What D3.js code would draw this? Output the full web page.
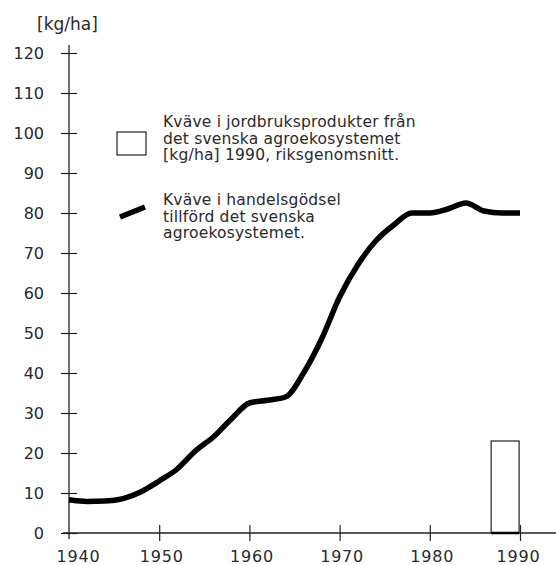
<!DOCTYPE html>
<html>
<head>
<meta charset="utf-8">
<script src="https://cdn.jsdelivr.net/npm/d3@7"></script>
<style>
  body { margin: 0; background: #fff; }
  svg text { font-family: "DejaVu Sans", sans-serif; fill: #2a2a2a; }
</style>
</head>
<body>
<svg id="chart" width="556" height="565"></svg>
<script>
// Commercial fertilizer nitrogen, kg/ha
const years = [1940, 1942, 1944, 1946, 1948, 1950, 1952, 1954, 1956, 1958, 1960, 1962, 1964,
               1966, 1968, 1970, 1972, 1974, 1976, 1978, 1980, 1982, 1984, 1986, 1988, 1990];
const fertilizer = [8.3, 7.9, 8.0, 8.6, 10.3, 13, 16, 20.5, 24, 28.5, 32.5, 33.2, 34,
                    40, 48.5, 59, 67, 73, 77, 80, 80, 81, 82.5, 80.5, 80, 80];

// Nitrogen in farm products, 1990 national average
const barRange = [1986.8, 1989.9];
const barValue = 23;

const yTicks = [0, 10, 20, 30, 40, 50, 60, 70, 80, 90, 100, 110, 120];
const xTicks = [1940, 1950, 1960, 1970, 1980, 1990];

const legendBar = ["Kväve i jordbruksprodukter från", "det svenska agroekosystemet", "[kg/ha] 1990, riksgenomsnitt."];
const legendLine = ["Kväve i handelsgödsel", "tillförd det svenska", "agroekosystemet."];

const svg = d3.select("#chart");

const x = d3.scaleLinear().domain([1940, 1990]).range([69, 520]);
const y = d3.scaleLinear().domain([0, 120]).range([533, 53]);

// Y axis with ticks crossing the line
const yAxis = svg.append("g")
    .attr("transform", `translate(${x(1940)},0)`)
    .call(d3.axisLeft(y).tickValues(yTicks).tickSize(8).tickPadding(17));
yAxis.select(".domain").remove();
yAxis.selectAll(".tick line").attr("x1", 8).attr("stroke", "#222").attr("stroke-width", 1.2);
yAxis.selectAll(".tick text").style("font-size", "16px").attr("fill", "#2a2a2a");

svg.append("line")
    .attr("x1", x(1940)).attr("x2", x(1940))
    .attr("y1", 45).attr("y2", 539)
    .attr("stroke", "#222").attr("stroke-width", 1.3);

// X axis
const xAxis = svg.append("g")
    .attr("transform", `translate(0,${y(0)})`)
    .call(d3.axisBottom(x).tickValues(xTicks).tickFormat(d3.format("d")).tickSize(8).tickPadding(10));
xAxis.select(".domain").remove();
xAxis.selectAll(".tick line").attr("y1", -8).attr("stroke", "#222").attr("stroke-width", 1.2)
    .filter(d => d === 1940).remove();
xAxis.selectAll(".tick text").style("font-size", "16px").style("letter-spacing", "0.8px")
    .attr("fill", "#2a2a2a")
    .attr("dx", d => d === 1940 ? 9 : (d === 1990 ? -2 : 2));

svg.append("line")
    .attr("x1", 63).attr("x2", 556)
    .attr("y1", y(0)).attr("y2", y(0))
    .attr("stroke", "#222").attr("stroke-width", 1.3);

// Unit label
svg.append("text")
    .attr("x", 37).attr("y", 30)
    .style("font-size", "17px")
    .text("[kg/ha]");

// Bar for 1990
svg.append("rect")
    .attr("x", x(barRange[0])).attr("y", y(barValue))
    .attr("width", x(barRange[1]) - x(barRange[0]))
    .attr("height", y(0) - y(barValue))
    .attr("fill", "#fff").attr("stroke", "#222").attr("stroke-width", 1.2);
svg.append("line")
    .attr("x1", x(barRange[0])).attr("x2", x(barRange[1]))
    .attr("y1", y(0)).attr("y2", y(0))
    .attr("stroke", "#000").attr("stroke-width", 2.5);

// Fertilizer line
const line = d3.line()
    .x((d, i) => x(years[i]))
    .y(d => y(d))
    .curve(d3.curveMonotoneX);

svg.append("path")
    .datum(fertilizer)
    .attr("d", line)
    .attr("fill", "none")
    .attr("stroke", "#000")
    .attr("stroke-width", 5.5)
    .attr("stroke-linecap", "butt")
    .attr("stroke-linejoin", "round");

// Legend
svg.append("rect")
    .attr("x", 117).attr("y", 132).attr("width", 29).attr("height", 23)
    .attr("fill", "#fff").attr("stroke", "#222").attr("stroke-width", 1.2);

svg.append("line")
    .attr("x1", 120).attr("y1", 217).attr("x2", 145).attr("y2", 207)
    .attr("stroke", "#000").attr("stroke-width", 5.5);

function legendText(lines, top) {
    svg.append("g").selectAll("text")
        .data(lines)
        .join("text")
        .attr("x", 163)
        .attr("y", (d, i) => top + i * 16.7)
        .style("font-size", "15.5px")
        .style("letter-spacing", "0.2px")
        .text(d => d);
}
legendText(legendBar, 127);
legendText(legendLine, 205);
</script>
</body>
</html>
